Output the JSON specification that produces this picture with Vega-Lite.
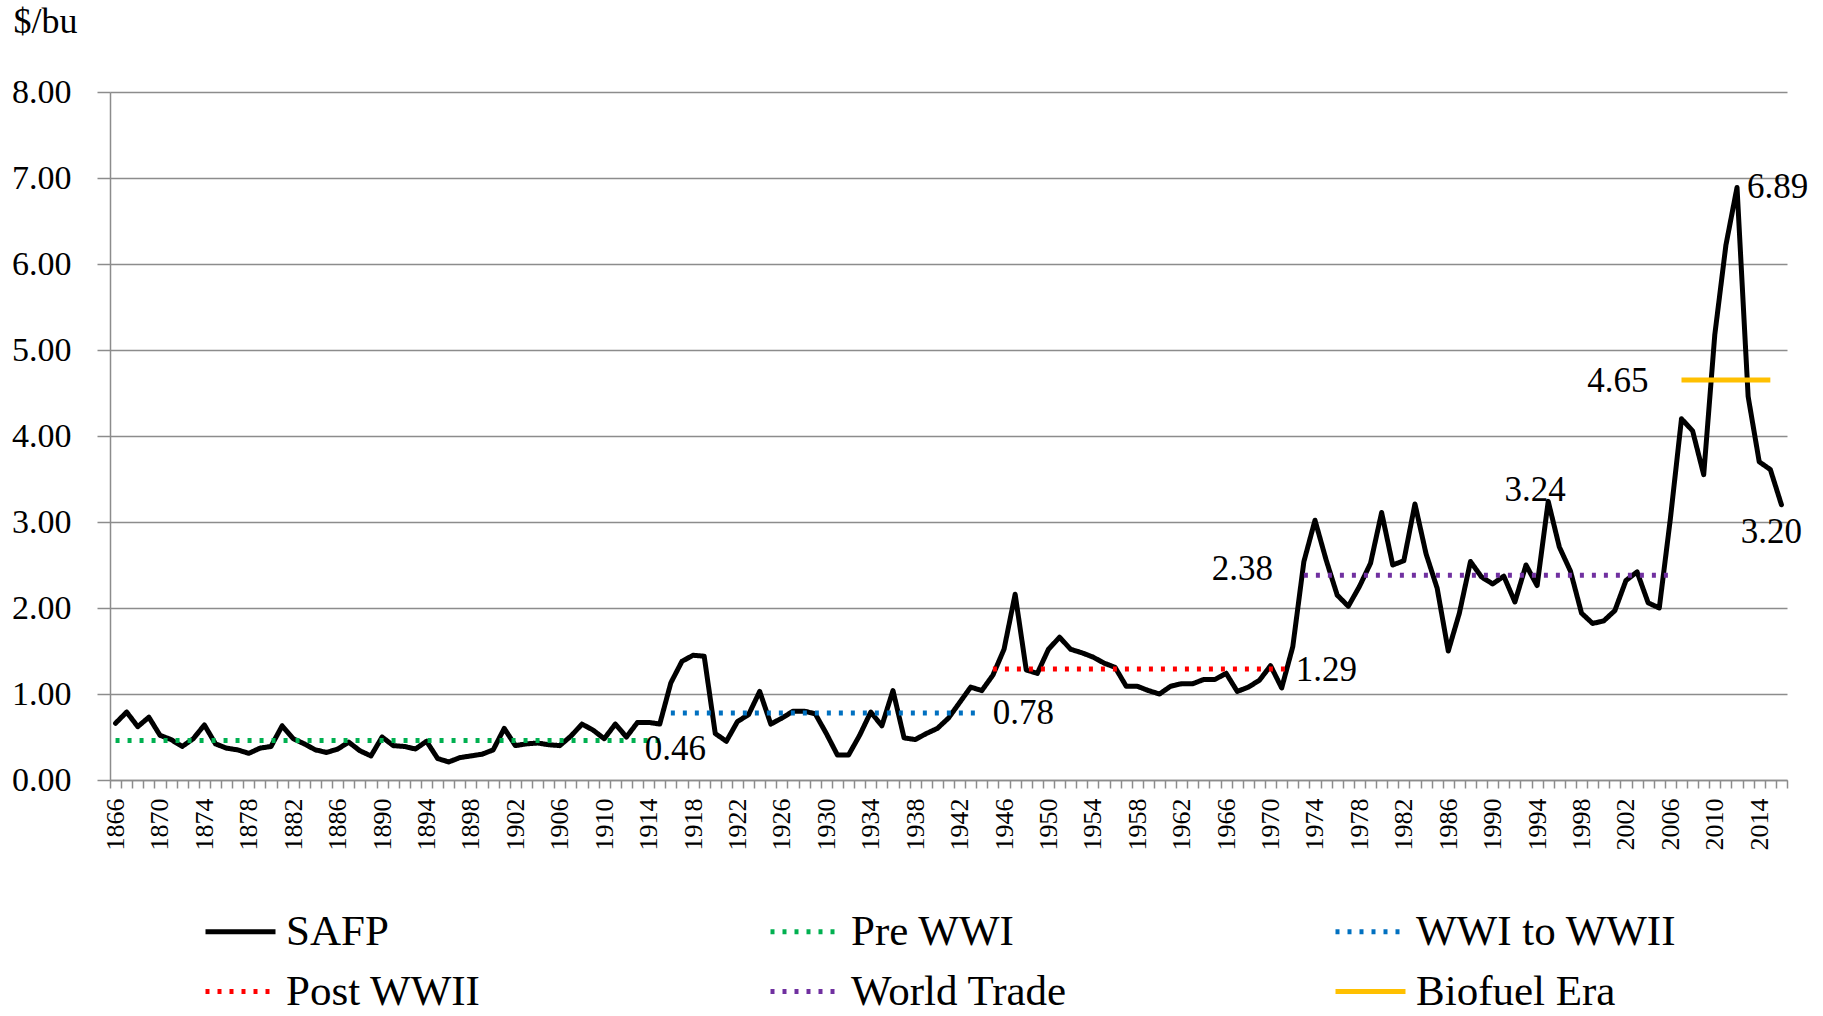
{
"$schema": "https://vega.github.io/schema/vega-lite/v6.json",
"width": 1677,
"height": 688,
"autosize": "none",
"padding": {"left": 110, "top": 92, "right": 36, "bottom": 236},
"background": "white",
"config": {"view": {"stroke": null}, "font": "Liberation Serif"},
"datasets": {
"safp": [
{"series":"SAFP","year":1866,"price":0.66},{"series":"SAFP","year":1867,"price":0.79},{"series":"SAFP","year":1868,"price":0.62},{"series":"SAFP","year":1869,"price":0.73},{"series":"SAFP","year":1870,"price":0.52},
{"series":"SAFP","year":1871,"price":0.47},{"series":"SAFP","year":1872,"price":0.39},{"series":"SAFP","year":1873,"price":0.48},{"series":"SAFP","year":1874,"price":0.64},{"series":"SAFP","year":1875,"price":0.42},
{"series":"SAFP","year":1876,"price":0.37},{"series":"SAFP","year":1877,"price":0.35},{"series":"SAFP","year":1878,"price":0.31},{"series":"SAFP","year":1879,"price":0.37},{"series":"SAFP","year":1880,"price":0.39},
{"series":"SAFP","year":1881,"price":0.63},{"series":"SAFP","year":1882,"price":0.48},{"series":"SAFP","year":1883,"price":0.42},{"series":"SAFP","year":1884,"price":0.35},{"series":"SAFP","year":1885,"price":0.32},
{"series":"SAFP","year":1886,"price":0.36},{"series":"SAFP","year":1887,"price":0.44},{"series":"SAFP","year":1888,"price":0.34},{"series":"SAFP","year":1889,"price":0.28},{"series":"SAFP","year":1890,"price":0.50},
{"series":"SAFP","year":1891,"price":0.40},{"series":"SAFP","year":1892,"price":0.39},{"series":"SAFP","year":1893,"price":0.36},{"series":"SAFP","year":1894,"price":0.45},{"series":"SAFP","year":1895,"price":0.25},
{"series":"SAFP","year":1896,"price":0.21},{"series":"SAFP","year":1897,"price":0.26},{"series":"SAFP","year":1898,"price":0.28},{"series":"SAFP","year":1899,"price":0.30},{"series":"SAFP","year":1900,"price":0.35},
{"series":"SAFP","year":1901,"price":0.60},{"series":"SAFP","year":1902,"price":0.40},{"series":"SAFP","year":1903,"price":0.42},{"series":"SAFP","year":1904,"price":0.43},{"series":"SAFP","year":1905,"price":0.41},
{"series":"SAFP","year":1906,"price":0.40},{"series":"SAFP","year":1907,"price":0.51},{"series":"SAFP","year":1908,"price":0.65},{"series":"SAFP","year":1909,"price":0.58},{"series":"SAFP","year":1910,"price":0.48},
{"series":"SAFP","year":1911,"price":0.65},{"series":"SAFP","year":1912,"price":0.50},{"series":"SAFP","year":1913,"price":0.67},{"series":"SAFP","year":1914,"price":0.67},{"series":"SAFP","year":1915,"price":0.65},
{"series":"SAFP","year":1916,"price":1.13},{"series":"SAFP","year":1917,"price":1.38},{"series":"SAFP","year":1918,"price":1.45},{"series":"SAFP","year":1919,"price":1.44},{"series":"SAFP","year":1920,"price":0.54},
{"series":"SAFP","year":1921,"price":0.45},{"series":"SAFP","year":1922,"price":0.68},{"series":"SAFP","year":1923,"price":0.76},{"series":"SAFP","year":1924,"price":1.03},{"series":"SAFP","year":1925,"price":0.65},
{"series":"SAFP","year":1926,"price":0.72},{"series":"SAFP","year":1927,"price":0.80},{"series":"SAFP","year":1928,"price":0.80},{"series":"SAFP","year":1929,"price":0.77},{"series":"SAFP","year":1930,"price":0.54},
{"series":"SAFP","year":1931,"price":0.29},{"series":"SAFP","year":1932,"price":0.29},{"series":"SAFP","year":1933,"price":0.52},{"series":"SAFP","year":1934,"price":0.79},{"series":"SAFP","year":1935,"price":0.63},
{"series":"SAFP","year":1936,"price":1.04},{"series":"SAFP","year":1937,"price":0.49},{"series":"SAFP","year":1938,"price":0.47},{"series":"SAFP","year":1939,"price":0.54},{"series":"SAFP","year":1940,"price":0.60},
{"series":"SAFP","year":1941,"price":0.72},{"series":"SAFP","year":1942,"price":0.90},{"series":"SAFP","year":1943,"price":1.08},{"series":"SAFP","year":1944,"price":1.04},{"series":"SAFP","year":1945,"price":1.22},
{"series":"SAFP","year":1946,"price":1.52},{"series":"SAFP","year":1947,"price":2.16},{"series":"SAFP","year":1948,"price":1.28},{"series":"SAFP","year":1949,"price":1.24},{"series":"SAFP","year":1950,"price":1.52},
{"series":"SAFP","year":1951,"price":1.66},{"series":"SAFP","year":1952,"price":1.52},{"series":"SAFP","year":1953,"price":1.48},{"series":"SAFP","year":1954,"price":1.43},{"series":"SAFP","year":1955,"price":1.36},
{"series":"SAFP","year":1956,"price":1.31},{"series":"SAFP","year":1957,"price":1.09},{"series":"SAFP","year":1958,"price":1.09},{"series":"SAFP","year":1959,"price":1.04},{"series":"SAFP","year":1960,"price":1.00},
{"series":"SAFP","year":1961,"price":1.09},{"series":"SAFP","year":1962,"price":1.12},{"series":"SAFP","year":1963,"price":1.12},{"series":"SAFP","year":1964,"price":1.17},{"series":"SAFP","year":1965,"price":1.17},
{"series":"SAFP","year":1966,"price":1.24},{"series":"SAFP","year":1967,"price":1.03},{"series":"SAFP","year":1968,"price":1.08},{"series":"SAFP","year":1969,"price":1.16},{"series":"SAFP","year":1970,"price":1.33},
{"series":"SAFP","year":1971,"price":1.07},{"series":"SAFP","year":1972,"price":1.55},{"series":"SAFP","year":1973,"price":2.54},{"series":"SAFP","year":1974,"price":3.02},{"series":"SAFP","year":1975,"price":2.56},
{"series":"SAFP","year":1976,"price":2.15},{"series":"SAFP","year":1977,"price":2.02},{"series":"SAFP","year":1978,"price":2.25},{"series":"SAFP","year":1979,"price":2.52},{"series":"SAFP","year":1980,"price":3.11},
{"series":"SAFP","year":1981,"price":2.50},{"series":"SAFP","year":1982,"price":2.55},{"series":"SAFP","year":1983,"price":3.21},{"series":"SAFP","year":1984,"price":2.63},{"series":"SAFP","year":1985,"price":2.23},
{"series":"SAFP","year":1986,"price":1.50},{"series":"SAFP","year":1987,"price":1.94},{"series":"SAFP","year":1988,"price":2.54},{"series":"SAFP","year":1989,"price":2.36},{"series":"SAFP","year":1990,"price":2.28},
{"series":"SAFP","year":1991,"price":2.37},{"series":"SAFP","year":1992,"price":2.07},{"series":"SAFP","year":1993,"price":2.50},{"series":"SAFP","year":1994,"price":2.26},{"series":"SAFP","year":1995,"price":3.24},
{"series":"SAFP","year":1996,"price":2.71},{"series":"SAFP","year":1997,"price":2.43},{"series":"SAFP","year":1998,"price":1.94},{"series":"SAFP","year":1999,"price":1.82},{"series":"SAFP","year":2000,"price":1.85},
{"series":"SAFP","year":2001,"price":1.97},{"series":"SAFP","year":2002,"price":2.32},{"series":"SAFP","year":2003,"price":2.42},{"series":"SAFP","year":2004,"price":2.06},{"series":"SAFP","year":2005,"price":2.00},
{"series":"SAFP","year":2006,"price":3.04},{"series":"SAFP","year":2007,"price":4.20},{"series":"SAFP","year":2008,"price":4.06},{"series":"SAFP","year":2009,"price":3.55},{"series":"SAFP","year":2010,"price":5.18},
{"series":"SAFP","year":2011,"price":6.22},{"series":"SAFP","year":2012,"price":6.89},{"series":"SAFP","year":2013,"price":4.46},{"series":"SAFP","year":2014,"price":3.70},{"series":"SAFP","year":2015,"price":3.61},
{"series":"SAFP","year":2016,"price":3.20}
],
"periods": [
{"series":"Pre WWI","year":1866,"price":0.46},{"series":"Pre WWI","year":1915,"price":0.46},
{"series":"WWI to WWII","year":1916,"price":0.78},{"series":"WWI to WWII","year":1944,"price":0.78},
{"series":"Post WWII","year":1945,"price":1.29},{"series":"Post WWII","year":1972,"price":1.29},
{"series":"World Trade","year":1973,"price":2.38},{"series":"World Trade","year":2006,"price":2.38},
{"series":"Biofuel Era","year":2007,"price":4.65},{"series":"Biofuel Era","year":2015,"price":4.65}
],
"labels": [
{"label":"0.46","year":1915,"price":0.46},
{"label":"0.78","year":1944,"price":0.78},
{"label":"1.29","year":1972,"price":1.29},
{"label":"2.38","year":1973,"price":2.38},
{"label":"3.24","year":1995,"price":3.24},
{"label":"4.65","year":2007,"price":4.65},
{"label":"6.89","year":2012,"price":6.89},
{"label":"3.20","year":2016,"price":3.20}
]
},
"encoding": {
"x": {"field": "year", "type": "quantitative",
 "scale": {"domain": [1865.5, 2016.5], "nice": false, "zero": false},
 "axis": {
  "values": [1865.5,1866.5,1867.5,1868.5,1869.5,1870.5,1871.5,1872.5,1873.5,1874.5,
   1875.5,1876.5,1877.5,1878.5,1879.5,1880.5,1881.5,1882.5,1883.5,1884.5,
   1885.5,1886.5,1887.5,1888.5,1889.5,1890.5,1891.5,1892.5,1893.5,1894.5,
   1895.5,1896.5,1897.5,1898.5,1899.5,1900.5,1901.5,1902.5,1903.5,1904.5,
   1905.5,1906.5,1907.5,1908.5,1909.5,1910.5,1911.5,1912.5,1913.5,1914.5,
   1915.5,1916.5,1917.5,1918.5,1919.5,1920.5,1921.5,1922.5,1923.5,1924.5,
   1925.5,1926.5,1927.5,1928.5,1929.5,1930.5,1931.5,1932.5,1933.5,1934.5,
   1935.5,1936.5,1937.5,1938.5,1939.5,1940.5,1941.5,1942.5,1943.5,1944.5,
   1945.5,1946.5,1947.5,1948.5,1949.5,1950.5,1951.5,1952.5,1953.5,1954.5,
   1955.5,1956.5,1957.5,1958.5,1959.5,1960.5,1961.5,1962.5,1963.5,1964.5,
   1965.5,1966.5,1967.5,1968.5,1969.5,1970.5,1971.5,1972.5,1973.5,1974.5,
   1975.5,1976.5,1977.5,1978.5,1979.5,1980.5,1981.5,1982.5,1983.5,1984.5,
   1985.5,1986.5,1987.5,1988.5,1989.5,1990.5,1991.5,1992.5,1993.5,1994.5,
   1995.5,1996.5,1997.5,1998.5,1999.5,2000.5,2001.5,2002.5,2003.5,2004.5,
   2005.5,2006.5,2007.5,2008.5,2009.5,2010.5,2011.5,2012.5,2013.5,2014.5,
   2015.5,2016.5],
  "labelExpr": "(datum.value + 0.5 - 1866) % 4 == 0 ? '' + (datum.value + 0.5) : ''",
  "labelAngle": -90,
  "labelOffset": 5.55,
  "labelOverlap": false,
  "labelFlush": false,
  "labelBound": false,
  "labelFont": "Liberation Serif",
  "labelFontSize": 26,
  "labelColor": "black",
  "labelPadding": 10,
  "tickSize": 8,
  "tickColor": "#8c8c8c",
  "tickWidth": 1.5,
  "domainColor": "#8c8c8c",
  "domainWidth": 1.5,
  "grid": false,
  "title": null}},
"y": {"field": "price", "type": "quantitative",
 "scale": {"domain": [0, 8], "nice": false},
 "axis": {
  "values": [0,1,2,3,4,5,6,7,8],
  "format": ".2f",
  "title": "$/bu",
  "titleAngle": 0,
  "titleAlign": "left",
  "titleBaseline": "alphabetic",
  "titleX": -97,
  "titleY": -60,
  "titleFont": "Liberation Serif",
  "titleFontSize": 36,
  "titleFontWeight": "normal",
  "titleColor": "black",
  "labelFont": "Liberation Serif",
  "labelFontSize": 34,
  "labelColor": "black",
  "labelPadding": 26,
  "tickSize": 13,
  "tickColor": "#8c8c8c",
  "tickWidth": 1.5,
  "domainColor": "#8c8c8c",
  "domainWidth": 1.5,
  "gridColor": "#8c8c8c",
  "gridWidth": 1.5}}
},
"layer": [
{"data": {"name": "safp"},
 "mark": {"type": "line", "strokeWidth": 5, "strokeJoin": "round", "strokeCap": "round"},
 "encoding": {
  "color": {"field": "series", "type": "nominal",
   "scale": {"domain": ["SAFP","Post WWII","Pre WWI","World Trade","WWI to WWII","Biofuel Era"],
             "range": ["#000000","#FF0000","#00B050","#7030A0","#0070C0","#FFC000"]},
   "legend": {"orient": "none", "legendX": 93, "legendY": 802, "columns": 3, "gridAlign": "all",
    "columnPadding": 213, "rowPadding": 0, "title": null, "padding": 0,
    "labelFont": "Liberation Serif", "labelFontSize": 43, "labelColor": "black", "labelLimit": 0,
    "labelOffset": 8, "symbolType": "stroke", "symbolSize": 4900, "symbolStrokeWidth": 5}},
  "strokeDash": {"field": "series", "type": "nominal",
   "scale": {"domain": ["SAFP","Post WWII","Pre WWI","World Trade","WWI to WWII","Biofuel Era"],
             "range": [[1,0],[4,8],[4,8],[4,8],[4,8],[1,0]]},
   "legend": {"orient": "none", "legendX": 93, "legendY": 802, "columns": 3, "gridAlign": "all",
    "columnPadding": 213, "rowPadding": 0, "title": null, "padding": 0,
    "labelFont": "Liberation Serif", "labelFontSize": 43, "labelColor": "black", "labelLimit": 0,
    "labelOffset": 8, "symbolType": "stroke", "symbolSize": 4900, "symbolStrokeWidth": 5}}
 }},
{"data": {"name": "periods"},
 "mark": {"type": "line", "strokeWidth": 5, "strokeCap": "butt"},
 "encoding": {
  "color": {"field": "series", "type": "nominal"},
  "strokeDash": {"field": "series", "type": "nominal"}
 }},
{"data": {"name": "labels"}, "transform": [{"filter": "datum.label == '0.46'"}],
 "mark": {"type": "text", "align": "left", "baseline": "middle", "dx": -15, "dy": 9, "fontSize": 35, "font": "Liberation Serif", "color": "black"},
 "encoding": {"text": {"field": "label"}}},
{"data": {"name": "labels"}, "transform": [{"filter": "datum.label == '0.78'"}],
 "mark": {"type": "text", "align": "left", "baseline": "middle", "dx": 11, "dy": 0, "fontSize": 35, "font": "Liberation Serif", "color": "black"},
 "encoding": {"text": {"field": "label"}}},
{"data": {"name": "labels"}, "transform": [{"filter": "datum.label == '1.29'"}],
 "mark": {"type": "text", "align": "left", "baseline": "middle", "dx": 3, "dy": 1, "fontSize": 35, "font": "Liberation Serif", "color": "black"},
 "encoding": {"text": {"field": "label"}}},
{"data": {"name": "labels"}, "transform": [{"filter": "datum.label == '2.38'"}],
 "mark": {"type": "text", "align": "right", "baseline": "middle", "dx": -31, "dy": -6, "fontSize": 35, "font": "Liberation Serif", "color": "black"},
 "encoding": {"text": {"field": "label"}}},
{"data": {"name": "labels"}, "transform": [{"filter": "datum.label == '3.24'"}],
 "mark": {"type": "text", "align": "center", "baseline": "alphabetic", "dx": -13, "dy": 0, "fontSize": 35, "font": "Liberation Serif", "color": "black"},
 "encoding": {"text": {"field": "label"}}},
{"data": {"name": "labels"}, "transform": [{"filter": "datum.label == '4.65'"}],
 "mark": {"type": "text", "align": "right", "baseline": "middle", "dx": -33, "dy": 1, "fontSize": 35, "font": "Liberation Serif", "color": "black"},
 "encoding": {"text": {"field": "label"}}},
{"data": {"name": "labels"}, "transform": [{"filter": "datum.label == '6.89'"}],
 "mark": {"type": "text", "align": "left", "baseline": "middle", "dx": 10, "dy": 0, "fontSize": 35, "font": "Liberation Serif", "color": "black"},
 "encoding": {"text": {"field": "label"}}},
{"data": {"name": "labels"}, "transform": [{"filter": "datum.label == '3.20'"}],
 "mark": {"type": "text", "align": "center", "baseline": "alphabetic", "dx": -10, "dy": 38, "fontSize": 35, "font": "Liberation Serif", "color": "black"},
 "encoding": {"text": {"field": "label"}}}
]
}
